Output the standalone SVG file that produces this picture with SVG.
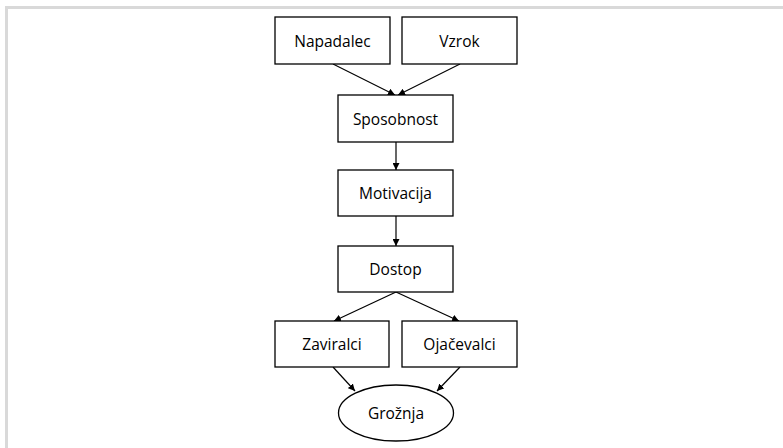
<svg xmlns="http://www.w3.org/2000/svg" width="783" height="448" viewBox="0 0 783 448">
  <style>
    .box { fill: #ffffff; stroke: #000000; stroke-width: 1.3; }
    .label { font-family: "Open Sans", "Noto Sans", "Liberation Sans", sans-serif; font-size: 15.5px; fill: #000000; text-anchor: middle; dominant-baseline: central; }
    .edge { stroke: #000000; stroke-width: 1.2; fill: none; marker-end: url(#arrow); }
  </style>
  <defs>
    <marker id="arrow" viewBox="0 0 10 10" refX="10" refY="5" markerWidth="7" markerHeight="7" markerUnits="userSpaceOnUse" orient="auto">
      <path d="M0,0 L10,5 L0,10 z" fill="#000000"/>
    </marker>
  </defs>

  <!-- page frame -->
  <rect x="0" y="0" width="783" height="448" fill="#ffffff"/>
  <rect x="5" y="6" width="778" height="3" fill="#d9d9d9"/>
  <rect x="5" y="6" width="3" height="442" fill="#d9d9d9"/>

  <g id="connectors">
    <line class="edge" x1="333" y1="64" x2="395" y2="95"/>
    <line class="edge" x1="460" y1="64" x2="398" y2="95"/>
    <line class="edge" x1="396" y1="142" x2="396" y2="170"/>
    <line class="edge" x1="396" y1="216" x2="396" y2="246"/>
    <line class="edge" x1="396" y1="292" x2="334" y2="321"/>
    <line class="edge" x1="396" y1="292" x2="459" y2="321"/>
    <line class="edge" x1="333" y1="367" x2="355" y2="391"/>
    <line class="edge" x1="460" y1="367" x2="437" y2="391"/>
  </g>

  <g id="napadalec">
    <rect class="box" x="275" y="17" width="115" height="47"/>
    <text class="label" x="332.5" y="40.5">Napadalec</text>
  </g>
  <g id="vzrok">
    <rect class="box" x="402" y="17" width="115" height="47"/>
    <text class="label" x="459.5" y="40.5">Vzrok</text>
  </g>
  <g id="sposobnost">
    <rect class="box" x="338" y="95" width="115" height="47"/>
    <text class="label" x="395.5" y="118.5">Sposobnost</text>
  </g>
  <g id="motivacija">
    <rect class="box" x="338" y="170" width="115" height="46"/>
    <text class="label" x="395.5" y="193">Motivacija</text>
  </g>
  <g id="dostop">
    <rect class="box" x="338" y="246" width="115" height="46"/>
    <text class="label" x="395.5" y="269">Dostop</text>
  </g>
  <g id="zaviralci">
    <rect class="box" x="275" y="321" width="114" height="46"/>
    <text class="label" x="332" y="344">Zaviralci</text>
  </g>
  <g id="ojacevalci">
    <rect class="box" x="402" y="321" width="115" height="46"/>
    <text class="label" x="459.5" y="344">Ojačevalci</text>
  </g>
  <g id="groznja">
    <ellipse class="box" cx="396" cy="413" rx="57.5" ry="28"/>
    <text class="label" x="396" y="413">Grožnja</text>
  </g>
</svg>
